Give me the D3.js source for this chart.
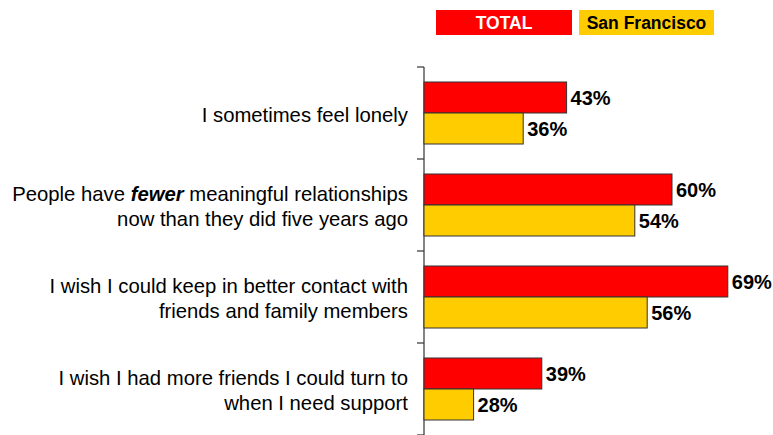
<!DOCTYPE html>
<html>
<head>
<meta charset="utf-8">
<script src="https://cdn.jsdelivr.net/npm/d3@7"></script>
<style>
  html, body { margin: 0; padding: 0; background: #fff; }
  svg { display: block; font-family: Arial, "Liberation Sans", sans-serif; }
</style>
</head>
<body>
<svg id="chart" width="773" height="435"></svg>
<script>
// Statements (each line of a label is a list of [text, emphasised] runs)
const categories = [
  [[["I sometimes feel lonely", false]]],
  [[["People have ", false], ["fewer", true], [" meaningful relationships", false]],
   [["now than they did five years ago", false]]],
  [[["I wish I could keep in better contact with", false]],
   [["friends and family members", false]]],
  [[["I wish I had more friends I could turn to", false]],
   [["when I need support", false]]]
];
const seriesNames = ["TOTAL", "San Francisco"];
const totalValues = [43, 60, 69, 39];
const sfValues = [36, 54, 56, 28];
const colors = ["#FF0000", "#FFCC00"];

const svg = d3.select("#chart");

const axisX = 424;
const x = d3.scaleLinear().domain([20, 75]).range([axisX, 765]);
const y = d3.scaleBand().domain(d3.range(categories.length)).range([67, 435]).padding(0);
const barH = 31;

// Category axis with ticks on band boundaries
const boundaries = d3.range(categories.length + 1).map(i => 67 + i * y.step());
const axisG = svg.append("g");
axisG.append("line")
  .attr("x1", axisX).attr("x2", axisX)
  .attr("y1", boundaries[0]).attr("y2", boundaries[boundaries.length - 1])
  .attr("stroke", "#333").attr("stroke-width", 1.2);
axisG.selectAll("line.tick").data(boundaries).join("line")
  .attr("class", "tick")
  .attr("x1", axisX - 7).attr("x2", axisX)
  .attr("y1", d => d).attr("y2", d => d)
  .attr("stroke", "#333").attr("stroke-width", 1.2);

// Category labels
const lineGap = 25;
categories.forEach((lines, i) => {
  const cy = y(i) + y.bandwidth() / 2;
  const n = lines.length;
  lines.forEach((runs, j) => {
    const t = svg.append("text")
      .attr("x", 408)
      .attr("y", cy + (j - (n - 1) / 2) * lineGap)
      .attr("dy", "0.44em")
      .attr("text-anchor", "end")
      .attr("font-size", 20.3)
      .attr("fill", "#000");
    runs.forEach(([txt, em]) => {
      const s = t.append("tspan").text(txt);
      if (em) s.attr("font-weight", "bold").attr("font-style", "italic");
    });
  });
});

// Bars
const series = [totalValues, sfValues];
series.forEach((vals, si) => {
  const g = svg.append("g");
  g.selectAll("rect").data(vals).join("rect")
    .attr("x", x(20))
    .attr("y", (d, i) => y(i) + y.bandwidth() / 2 - barH + si * barH)
    .attr("width", d => x(d) - x(20))
    .attr("height", barH)
    .attr("fill", colors[si])
    .attr("stroke", "#333")
    .attr("stroke-width", 1);
  g.selectAll("text").data(vals).join("text")
    .attr("x", d => x(d) + 4)
    .attr("y", (d, i) => y(i) + y.bandwidth() / 2 - barH / 2 + si * barH)
    .attr("dy", "0.36em")
    .attr("font-size", 20)
    .attr("font-weight", "bold")
    .attr("fill", "#000")
    .text(d => d + "%");
});

// Legend
const legend = [
  { name: seriesNames[0], x: 436, w: 136, fill: colors[0], text: "#fff" },
  { name: seriesNames[1], x: 579, w: 135, fill: colors[1], text: "#000" }
];
const lg = svg.append("g");
legend.forEach(d => {
  lg.append("rect").attr("x", d.x).attr("y", 10).attr("width", d.w).attr("height", 25)
    .attr("fill", d.fill);
  lg.append("text").attr("x", d.x + d.w / 2).attr("y", 22.5).attr("dy", "0.36em")
    .attr("text-anchor", "middle").attr("font-size", 17.5).attr("font-weight", "bold")
    .attr("fill", d.text).text(d.name);
});
</script>
</body>
</html>
